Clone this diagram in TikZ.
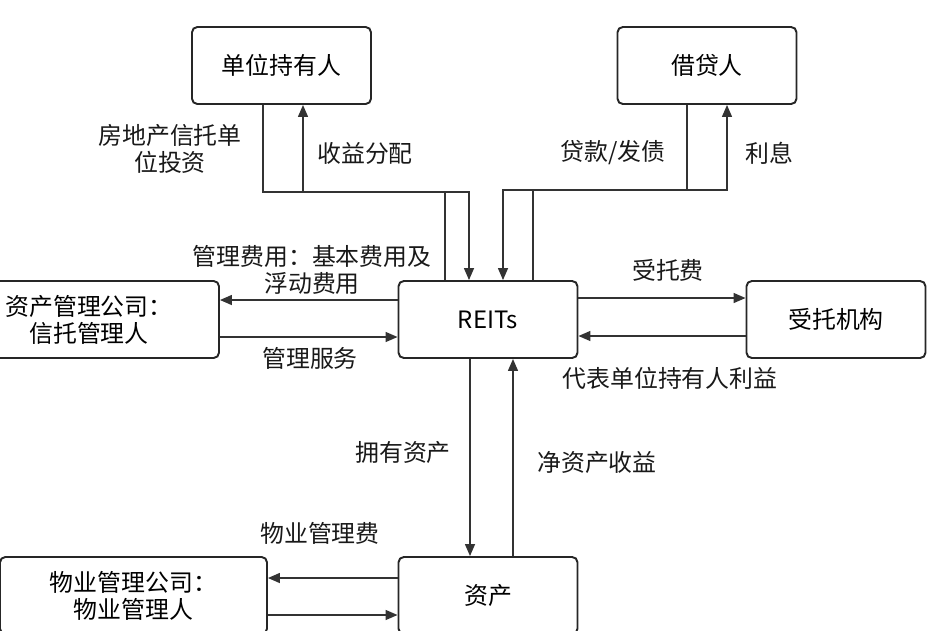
\documentclass[tikz,border=0pt]{standalone}
\usepackage{fontspec}
\setmainfont{Noto Sans CJK SC}
\usetikzlibrary{arrows.meta}

\tikzset{
  box/.style={draw=black!85,line width=1.1pt,rounded corners=3pt,fill=white,
    minimum width=3.58cm,minimum height=1.54cm,align=center},
  flow/.style={draw=black!80,line width=0.8pt,-{Triangle[length=0.24cm,width=0.2cm]}},
  lbl/.style={align=center,text=black!90}
}

\begin{document}
\begin{tikzpicture}[x=0.02cm,y=-0.02cm,font=\fontsize{13.6pt}{15.4pt}\selectfont]
\clip (0,0) rectangle (927,630);

% Boxes
\node[box] (holder) at (281.5,65.5) {单位持有人};
\node[box] (lender) at (707,65.5) {借贷人};
\node[box] (reits) at (488,319.5) {REITs};
\node[box] (trustee) at (836,319.5) {受托机构};
\node[box,minimum width=5.2cm] (am) at (89,319.5) {资产管理公司：\\信托管理人};
\node[box] (asset) at (488,595.5) {资产};
\node[box,minimum width=5.34cm] (pm) at (133.5,595.5) {物业管理公司：\\物业管理人};

% Bend points above REITs
\coordinate (invL) at (469,192);
\coordinate (payL) at (303,192);
\coordinate (payR) at (445,192);
\coordinate (invH) at (263,192);
\coordinate (loanR) at (503,190);
\coordinate (loanL) at (687,190);
\coordinate (intL) at (533,190);
\coordinate (intR) at (727,190);

% Unit holders and lenders
\draw[flow] (holder.south -| invH) -- (invH) -- (invL) -- (reits.north -| invL);
\draw[flow] (reits.north -| payR) -- (payR) -- (payL) -- (holder.south -| payL);
\draw[flow] (lender.south -| loanL) -- (loanL) -- (loanR) -- (reits.north -| loanR);
\draw[flow] (reits.north -| intL) -- (intL) -- (intR) -- (lender.south -| intR);
\node[lbl] (linvest) at (170,149) {房地产信托单\\位投资};
\node[lbl] (lpayout) at (365,153) {收益分配};
\node[lbl] (lloan) at (613,153) {贷款/发债};
\node[lbl] (linterest) at (769,153) {利息};

% Asset manager
\draw[flow] ([yshift=0.39cm]reits.west) -- ([yshift=0.39cm]am.east);
\draw[flow] ([yshift=-0.35cm]am.east) -- ([yshift=-0.35cm]reits.west);
\node[lbl] (lfee) at (312,269.5) {管理费用：基本费用及\\浮动费用};
\node[lbl] (lservice) at (310,358) {管理服务};

% Trustee
\draw[flow] ([yshift=0.43cm]reits.east) -- ([yshift=0.43cm]trustee.west);
\draw[flow] ([yshift=-0.33cm]trustee.west) -- ([yshift=-0.33cm]reits.east);
\node[lbl] (ltrust) at (668,270) {受托费};
\node[lbl] (lrep) at (670,378) {代表单位持有人利益};

% Assets
\draw[flow] ([xshift=-0.36cm]reits.south) -- ([xshift=-0.36cm]asset.north);
\draw[flow] ([xshift=0.5cm]asset.north) -- ([xshift=0.5cm]reits.south);
\node[lbl] (lown) at (403,452) {拥有资产};
\node[lbl] (lnet) at (597,462) {净资产收益};

% Property manager
\draw[flow] ([yshift=0.35cm]asset.west) -- ([yshift=0.35cm]pm.east);
\draw[flow] ([yshift=-0.39cm]pm.east) -- ([yshift=-0.39cm]asset.west);
\node[lbl] (lpmfee) at (320,533) {物业管理费};
\end{tikzpicture}
\end{document}
